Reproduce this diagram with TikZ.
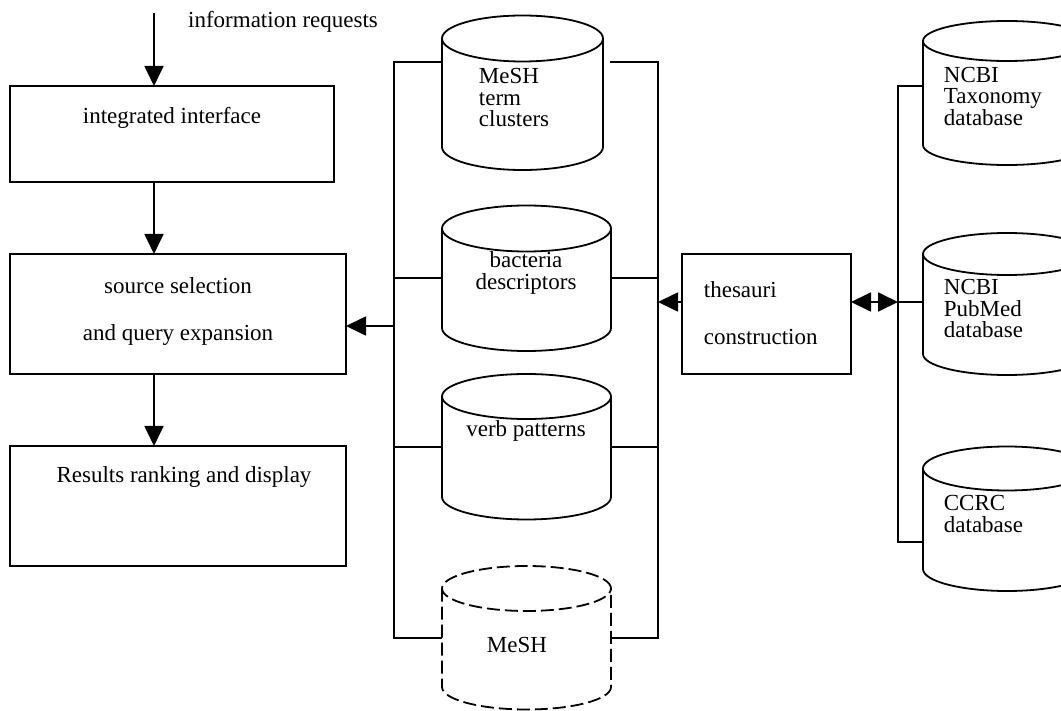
\documentclass[tikz,border=0pt]{standalone}
\usepackage{fontspec}
\setmainfont{Liberation Serif}
\usetikzlibrary{arrows.meta}

% database cylinder: name, centre x, top-ellipse y, bottom-ellipse y, x radius, y radius, extra style
\newcommand\dbcyl[7]{%
  \node[body, minimum width={2*#5pt}, minimum height={(#4-#3)*1pt}] (#1) at ({#2},{(#3+#4)/2}) {};
  \draw[#7] (#1.north west) -- (#1.south west)
        arc[start angle=180, end angle=360, x radius=#5pt, y radius=#6pt] -- (#1.north east);
  \draw[#7] (#1.north) ellipse[x radius=#5pt, y radius=#6pt];
}

\begin{document}
\begin{tikzpicture}[x=1pt, y=-1pt,
  line width=1.8pt,
  >={Triangle[length=20pt, width=19pt]},
  every node/.style={inner sep=0pt, font=\fontsize{23}{21.5}\selectfont},
  box/.style={draw, rectangle, outer sep=0pt},
  body/.style={rectangle, draw=none, outer sep=0pt},
  lbl/.style={align=center},
  arr/.style={->},
  darr/.style={<->},
  dashedline/.style={dash pattern=on 13pt off 5pt},
]
\useasboundingbox (0,0) rectangle (1061,711);

% ---------- processing chain on the left ----------
\coordinate (req) at (154,13);
\node[lbl] (reqt) at (283,22) {information requests};

\node[box, minimum width=324pt, minimum height=96pt]  (ii) at (172,134) {};
\node[lbl] (iit) at (172,118) {integrated interface};

\node[box, minimum width=336pt, minimum height=120pt] (ss) at (178,314) {};
\node[lbl] (sst1) at (178,286) {source selection};
\node[lbl] (sst2) at (178,335) {and query expansion};

\node[box, minimum width=336pt, minimum height=120pt] (rr) at (178,506) {};
\node[lbl] (rrt) at (184,477) {Results ranking and display};

\draw[arr] (req) -- (req |- ii.north);
\draw[arr] (req |- ii.south) -- (req |- ss.north);
\draw[arr] (req |- ss.south) -- (req |- rr.north);

% ---------- knowledge sources in the middle ----------
\dbcyl{mtc}{522.5}{38.5}{147}{80.5}{23}{}
\node[anchor=west, align=left] (mtct) at (478,98) {MeSH\\term\\clusters};

\dbcyl{bac}{526.5}{228.5}{328}{84.5}{23}{}
\node[lbl] (bact) at (526,273) {bacteria\\descriptors};

\dbcyl{verb}{526.5}{396.5}{497}{84.5}{22.5}{}
\node[lbl] (verbt) at (526,431) {verb patterns};

\dbcyl{mesh}{526.5}{588.5}{687}{84.5}{22.5}{dashedline}
\node[lbl] (mesht) at (517,645) {MeSH};

% buses on both sides of the sources
\coordinate (lb1) at (394,62);
\coordinate (lb4) at (394,638);
\coordinate (rb1) at (658,62);
\coordinate (rb4) at (658,638);
\coordinate (lbA) at (394,326);

\draw (mtc.west |- lb1) -- (lb1) -- (lb4) -- (mesh.west |- lb4);
\draw ([xshift=7pt]mtc.east |- rb1) -- (rb1) -- (rb4) -- (mesh.east |- rb4);
\draw (lb1 |- bac.west) -- (bac.west);
\draw (bac.east) -- (rb1 |- bac.east);
\draw (lb1 |- verb.west) -- (verb.west);
\draw (verb.east) -- (rb1 |- verb.east);
\draw[arr] (lbA) -- (ss.east |- lbA);

% ---------- thesauri construction ----------
\node[box, minimum width=169pt, minimum height=120pt] (tc) at (766.5,314) {};
\node[anchor=west] (tct1) at (703,290) {thesauri};
\node[anchor=west] (tct2) at (703,337) {construction};

\coordinate (tcA) at (682,302);
\draw[arr] (tcA) -- (rb1 |- tcA);

% ---------- external databases on the right ----------
\dbcyl{tax}{1007}{41}{145}{84}{20}{}
\node[anchor=west, align=left] (taxt) at (943,96.5) {NCBI\\Taxonomy\\database};

\dbcyl{pub}{1007}{254}{354}{84}{21}{}
\node[anchor=west, align=left] (pubt) at (943,308.5) {NCBI\\PubMed\\database};

\dbcyl{ccrc}{1007}{468.5}{569}{84}{22}{}
\node[anchor=west, align=left] (ccrct) at (943,514) {CCRC\\database};

\coordinate (xb1) at (898,86);
\coordinate (xbA) at (898,302);
\coordinate (xb3) at (898,542);
\draw (tax.west |- xb1) -- (xb1) -- (xb3) -- (ccrc.west |- xb3);
\draw (xbA) -- (pub.west |- xbA);
\draw[darr] (tc.east |- xbA) -- (xbA);

\end{tikzpicture}
\end{document}
